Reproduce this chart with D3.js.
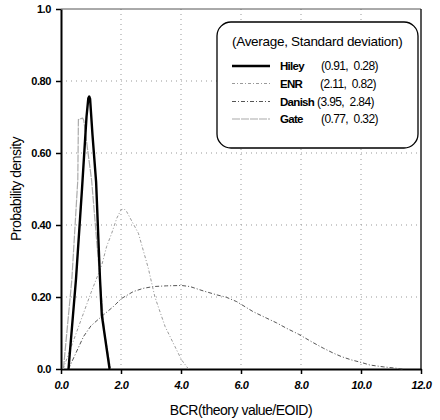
<!DOCTYPE html>
<html><head><meta charset="utf-8">
<script src="https://cdn.jsdelivr.net/npm/d3@7"></script>
<style>body{margin:0;background:#fff}svg{display:block}text{font-family:"Liberation Sans",Arial,sans-serif}.pre{white-space:pre}</style>
</head><body><svg id="c" width="440" height="420"></svg>
<script>
const xTicks = [0,2,4,6,8,10,12];
const xTickLabels = ["0.0","2.0","4.0","6.0","8.0","10.0","12.0"];
const yTicks = [0,0.2,0.4,0.6,0.8,1.0];
const yTickLabels = ["0.0","0.20","0.40","0.60","0.80","1.0"];

const seriesNames = ["Hiley","ENR","Danish","Gate"];
const seriesStats = ["(0.91,  0.28)","(2.11,  0.82)","(3.95,  2.84)","(0.77,  0.32)"];

const hileyX = [0.25,0.5,0.7,0.85,0.91,0.94,0.97,1.05,1.17,1.3,1.36,1.62];
const hileyY = [0,0.25,0.5,0.7,0.752,0.757,0.75,0.65,0.52,0.25,0.15,0];

const enrX = [0.07,0.5,1.0,1.36,1.52,1.69,1.86,2.0,2.1,2.19,2.58,2.91,3.13,3.47,3.8,4.02,4.25];
const enrY = [0,0.098,0.212,0.289,0.34,0.377,0.419,0.442,0.445,0.437,0.377,0.28,0.2,0.118,0.062,0.025,0];

const danishX = [0.25,0.75,1.0,1.41,1.74,2.02,2.41,2.74,3.08,3.52,4.02,4.3,4.74,5.19,5.52,5.86,6.41,6.86,7.19,7.52,7.91,8.41,8.74,9.08,9.36,9.69,10.02,10.3,10.74,11.19,11.4];
const danishY = [0,0.09,0.12,0.15,0.173,0.196,0.215,0.224,0.229,0.231,0.232,0.229,0.217,0.206,0.199,0.187,0.159,0.141,0.128,0.113,0.097,0.073,0.058,0.044,0.034,0.025,0.018,0.011,0.006,0.002,0];

const gateX = [0.08,0.36,0.56,0.58,0.72,0.76,1.02,1.3,1.45,1.65];
const gateY = [0,0.247,0.525,0.693,0.697,0.69,0.525,0.247,0.1,0];

const svg = d3.select("#c");
const L=61,R=421,T=9,B=369;
const x = d3.scaleLinear().domain([0,12]).range([L,R]);
const y = d3.scaleLinear().domain([0,1]).range([B,T]);

// grid
const g = svg.append("g");
g.selectAll(".gx").data(xTicks.slice(1,-1)).enter().append("line")
  .attr("x1",d=>x(d)).attr("x2",d=>x(d)).attr("y1",T).attr("y2",B)
  .attr("stroke","#999").attr("stroke-width",1).attr("stroke-dasharray","1,4");
g.selectAll(".gy").data(yTicks.slice(1,-1)).enter().append("line")
  .attr("x1",L).attr("x2",R).attr("y1",d=>y(d)).attr("y2",d=>y(d))
  .attr("stroke","#999").attr("stroke-width",1).attr("stroke-dasharray","1,4");

// frame
svg.append("line").attr("x1",L).attr("x2",R).attr("y1",T).attr("y2",T).attr("stroke","#555").attr("stroke-width",1);
svg.append("line").attr("x1",R).attr("x2",R).attr("y1",T).attr("y2",B).attr("stroke","#222").attr("stroke-width",1.5);

// axes
const xAxis = d3.axisBottom(x).tickValues(xTicks).tickFormat((d,i)=>xTickLabels[i]).tickSize(5).tickSizeOuter(0);
const gx = svg.append("g").attr("transform",`translate(0,${B})`).call(xAxis);
gx.select(".domain").attr("stroke","#000").attr("stroke-width",2);
gx.selectAll(".tick line").attr("stroke","#000").attr("stroke-width",1.5);
gx.selectAll("text").attr("font-size",11).attr("font-weight","bold").attr("font-style","italic").attr("letter-spacing","-0.4").attr("y",11).attr("dy","0.8em").attr("fill","#000");

const yAxis = d3.axisLeft(y).tickValues(yTicks).tickFormat((d,i)=>yTickLabels[i]).tickSize(5).tickSizeOuter(0);
const gy = svg.append("g").attr("transform",`translate(${L},0)`).call(yAxis);
gy.select(".domain").attr("stroke","#000").attr("stroke-width",2);
gy.selectAll(".tick line").attr("stroke","#000").attr("stroke-width",1.5);
gy.selectAll("text").attr("font-size",11).attr("font-weight","bold").attr("letter-spacing","-0.4").attr("x",-10).attr("fill","#000");

// titles
svg.append("text").attr("x",241).attr("y",415).attr("text-anchor","middle").attr("font-size",14).attr("letter-spacing","-0.5").text("BCR(theory value/EOID)");
svg.append("text").attr("transform","translate(21,189) rotate(-90)").attr("text-anchor","middle").attr("font-size",14).attr("letter-spacing","-0.5").text("Probability density");

// series
const styles = [
  {xs:hileyX,ys:hileyY,stroke:"#000",w:2.4,dash:null},
  {xs:enrX,ys:enrY,stroke:"#9a9a9a",w:1,dash:"3,2,1,2"},
  {xs:danishX,ys:danishY,stroke:"#555",w:1,dash:"4,2,1,2"},
  {xs:gateX,ys:gateY,stroke:"#aaa",w:1.2,dash:"8,1"}
];
const line = d3.line().x(d=>x(d[0])).y(d=>y(d[1]));
styles.slice().reverse().forEach(s=>{
  const pts = s.xs.map((v,i)=>[v,s.ys[i]]);
  const p = svg.append("path").datum(pts).attr("d",line).attr("fill","none")
    .attr("stroke",s.stroke).attr("stroke-width",s.w).attr("stroke-linejoin","round");
  if(s.dash) p.attr("stroke-dasharray",s.dash);
});

// legend
const lg = svg.append("g");
lg.append("rect").attr("x",217).attr("y",22).attr("width",201).attr("height",126).attr("rx",14).attr("ry",14)
  .attr("fill","#fff").attr("stroke","#000").attr("stroke-width",1.3);
lg.append("text").attr("x",232).attr("y",46).attr("font-size",13.5).attr("letter-spacing","-0.3").text("(Average, Standard deviation)");
const rowY = [66,83.5,101.5,119];
const statX = [321,320,317,321];
styles.forEach((s,i)=>{
  const l = lg.append("line").attr("x1",232).attr("x2",270).attr("y1",rowY[i]).attr("y2",rowY[i])
    .attr("stroke",s.stroke).attr("stroke-width",s.w);
  if(s.dash) l.attr("stroke-dasharray",s.dash);
  lg.append("text").attr("x",280).attr("y",rowY[i]+4).attr("font-size",11.5).attr("font-weight","bold").attr("letter-spacing","-0.7").text(seriesNames[i]);
  lg.append("text").attr("class","pre").attr("x",statX[i]).attr("y",rowY[i]+4).attr("font-size",12).attr("letter-spacing","-0.6").text(seriesStats[i]);
});
</script></body></html>
